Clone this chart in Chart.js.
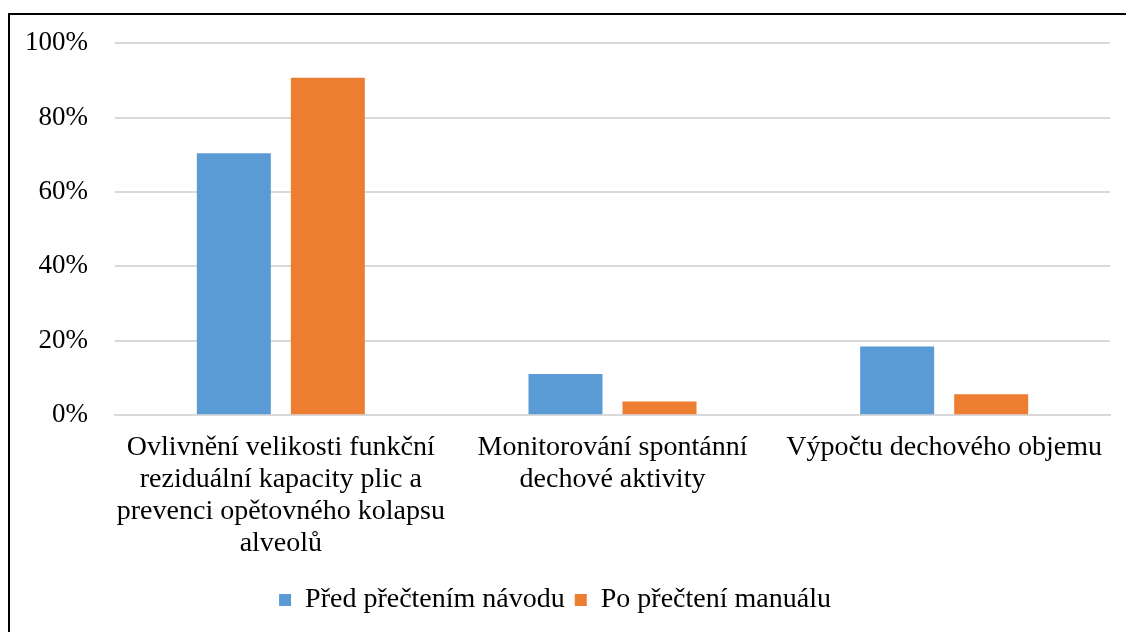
<!DOCTYPE html>
<html>
<head>
<meta charset="utf-8">
<script src="https://cdn.jsdelivr.net/npm/chart.js@4.4.0/dist/chart.umd.min.js"></script>
<style>
  html, body { margin: 0; padding: 0; background: #fff; overflow: hidden; }
  #frame { position: absolute; left: 8px; top: 13px; width: 1200px; height: 700px; border: 2px solid #000; box-sizing: border-box; }
  #wrap { position: absolute; left: 0; top: 0; width: 1126px; height: 632px; }
</style>
</head>
<body>
<div id="frame"></div>
<div id="wrap"><canvas id="myChart"></canvas></div>
<script>
// categories (multi-line labels as in the original)
const categories = [
    ["Ovlivnění velikosti funkční", "reziduální kapacity plic a", "prevenci opětovného kolapsu", "alveolů"],
    ["Monitorování spontánní", "dechové aktivity"],
    ["Výpočtu dechového objemu"]
];
const seriesNames = ["Před přečtením návodu", "Po přečtení manuálu"];
const beforeValues = [70.4, 11.1, 18.5];
const afterValues = [90.7, 3.7, 5.6];
const yTicks = [0, 20, 40, 60, 80, 100];

const font = "Liberation Serif";

var ctx = document.getElementById("myChart").getContext("2d");
window.myChart = new Chart(ctx, {
    type: 'bar',
    data: {
        labels: categories,
        datasets: [{
            label: seriesNames[0],
            data: beforeValues,
            backgroundColor: '#5B9BD5',
            borderWidth: 0
        }, {
            label: seriesNames[1],
            data: afterValues,
            backgroundColor: '#ED7D31',
            borderWidth: 0
        }]
    },
    options: {
        responsive: true,
        maintainAspectRatio: false,
        animation: false,
        categoryPercentage: 0.567,
        barPercentage: 0.787,
        layout: { padding: { top: 32, right: 16, left: 0, bottom: 8 } },
        plugins: {
            tooltip: { enabled: false },
            legend: {
                position: 'bottom',
                labels: {
                    boxWidth: 12,
                    boxHeight: 12,
                    padding: 10,
                    color: '#000',
                    font: { family: font, size: 28 }
                }
            }
        },
        scales: {
            x: {
                grid: { display: false, drawTicks: false },
                border: { display: true, color: '#d9d9d9', width: 2 },
                ticks: {
                    color: '#000',
                    font: { family: font, size: 28, lineHeight: 1.15 },
                    padding: 16,
                    maxRotation: 0,
                    autoSkip: false
                }
            },
            y: {
                min: 0,
                max: 100,
                afterBuildTicks: function(scale) {
                    scale.ticks = yTicks.map(v => ({ value: v }));
                },
                afterFit: function(scale) { scale.width = 115; },
                grid: { color: '#d9d9d9', lineWidth: 2, drawTicks: false },
                border: { display: false },
                ticks: {
                    color: '#000',
                    font: { family: font, size: 27 },
                    padding: 27,
                    callback: v => v + '%'
                }
            }
        }
    }
});
</script>
</body>
</html>
